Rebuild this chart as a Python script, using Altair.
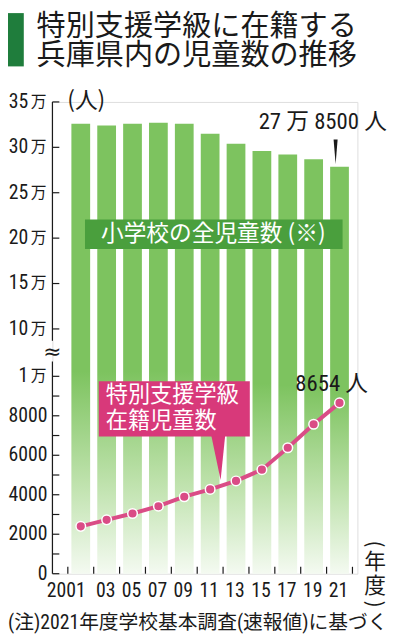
import altair as alt
import pandas as pd

# ---------------- data ----------------
years = [2001, 2003, 2005, 2007, 2009, 2011, 2013, 2015, 2017, 2019, 2021]
x_labels = ["2001", "03", "05", "07", "09", "11", "13", "15", "17", "19", "21"]
total_students = [326000, 324000, 326000, 327000, 326000, 315000, 304000, 296000, 292000, 287000, 278500]
special_class = [2400, 2730, 3050, 3420, 3900, 4270, 4700, 5270, 6380, 7570, 8654]

x_boundaries = [2000, 2002, 2004, 2006, 2008, 2010, 2012, 2014, 2016, 2018, 2020, 2022]
y_tick_values = [0, 1000, 2000, 3000, 4000, 5000, 6000, 7000, 8000, 9000, 10000,
                 100000, 150000, 200000, 250000, 300000, 350000]
y_label_values = [0, 2000, 4000, 6000, 8000, 10000, 100000, 150000, 200000, 250000, 300000, 350000]
y_label_numbers = ["0", "2000", "4000", "6000", "8000", "1", "10", "15", "20", "25", "30", "35"]
y_label_units = ["", "", "", "", "", "万", "万", "万", "万", "万", "万", "万"]

title_lines = ["特別支援学級に在籍する", "兵庫県内の児童数の推移"]
total_label = "小学校の全児童数 (※)"
special_label = ["特別支援学級", "在籍児童数"]
last_total_text = "27 万 8500 人"
last_special_text = "8654 人"
footnote = "(注)2021年度学校基本調査(速報値)に基づく"

# ---------------- broken-axis mapping (display units = px) ----------------
W, H = 309, 478
def disp_expr(f):
    return (f"datum.{f} <= 10000 ? datum.{f} / 50 : "
            f"248 + (datum.{f} - 100000) / 50000 * 46")

XS = alt.Scale(domain=[1999.19, 2022], nice=False, zero=False)
YS = alt.Scale(domain=[0, H], nice=False, zero=False)

CJK = "Noto Sans CJK JP"
NUM = "Roboto Condensed, Noto Sans CJK JP"
INK = "#1a1a1a"
BAR_GREEN = "#7dc35f"
BOX_GREEN = "#4a9f3d"
TITLE_GREEN = "#1f7d3c"
PINK = "#d8397a"
LINE_PINK = "#da4c86"

df = pd.DataFrame({"year": years, "total": total_students, "special": special_class,
                   "xl": x_labels})
one = pd.DataFrame({"k": [0]})

grad = alt.Gradient(
    gradient="linear", x1=0, x2=0, y1=0, y2=1,
    stops=[alt.GradientStop(offset=0, color=BAR_GREEN),
           alt.GradientStop(offset=0.55, color=BAR_GREEN),
           alt.GradientStop(offset=0.8, color="#bfe2ad"),
           alt.GradientStop(offset=1, color="#f4faf1")])

base = alt.Chart(df).transform_calculate(dt=disp_expr("total"), ds=disp_expr("special"))

x_axis = alt.Axis(values=years, labels=False, ticks=False, grid=False, title=None,
                  domainColor=INK, domainWidth=1.2)

bars = base.mark_bar(size=19, color=grad).encode(
    x=alt.X("year:Q", scale=XS, axis=x_axis),
    y=alt.Y("dt:Q", scale=YS, axis=None),
)

# x labels (2001 is set right of centre as in the original)
xlab_first = base.transform_filter(f"datum.year === {years[0]}").mark_text(
    font="Roboto Condensed", fontSize=20, color=INK, align="right", baseline="top", dx=5).encode(
    x=alt.X("year:Q", scale=XS, axis=None), y=alt.value(H + 8), text="xl:N")
xlab_rest = base.transform_filter(f"datum.year !== {years[0]}").mark_text(
    font="Roboto Condensed", fontSize=20, color=INK, align="center", baseline="top", dx=-1).encode(
    x=alt.X("year:Q", scale=XS, axis=None), y=alt.value(H + 8), text="xl:N")

line = base.mark_line(color=LINE_PINK, strokeWidth=4).encode(
    x=alt.X("year:Q", scale=XS, axis=None), y=alt.Y("ds:Q", scale=YS, axis=None))
pts = base.mark_point(filled=True, color=LINE_PINK, stroke="white", strokeWidth=1.5,
                      size=95, opacity=1).encode(
    x=alt.X("year:Q", scale=XS, axis=None), y=alt.Y("ds:Q", scale=YS, axis=None))

last = base.transform_filter(f"datum.year === {years[-1]}")
total_txt = last.mark_text(text=last_total_text, font=NUM, fontSize=23, color=INK,
                           dx=-17, dy=-45).encode(
    x=alt.X("year:Q", scale=XS, axis=None), y=alt.Y("dt:Q", scale=YS, axis=None))
# pointer wedge: path drawn above the anchor (bar top), 12px per unit
wedge = last.mark_point(shape="M -0.5 -2.3 L -0.16 -2.3 L -0.33 -0.25 Z", filled=True,
                        color=INK, size=576, opacity=1).encode(
    x=alt.X("year:Q", scale=XS, axis=None), y=alt.Y("dt:Q", scale=YS, axis=None))
special_txt = last.mark_text(text=last_special_text, font=NUM, fontSize=23, color=INK,
                             dx=-8, dy=-19).encode(
    x=alt.X("year:Q", scale=XS, axis=None), y=alt.Y("ds:Q", scale=YS, axis=None))

# green label box
gbox = alt.Chart(one).mark_rect(color=BOX_GREEN).encode(
    x=alt.value(33), x2=alt.value(294), y=alt.value(119), y2=alt.value(149))
gtxt = alt.Chart(one).mark_text(text=total_label, font=CJK, fontSize=23, color="white",
                                align="center", baseline="middle").encode(
    x=alt.value(163), y=alt.value(134))

# pink callout
pbox = alt.Chart(one).mark_rect(color=PINK).encode(
    x=alt.value(47), x2=alt.value(200), y=alt.value(283), y2=alt.value(339))
ptail = alt.Chart(one).mark_point(shape="M -0.32 -1.05 L 0.32 -1.05 L 0.11 1 Z", filled=True,
                                  color=PINK, size=1936, opacity=1).encode(
    x=alt.value(168), y=alt.value(361))
ptxt1 = alt.Chart(one).mark_text(text=special_label[0], font=CJK, fontSize=22.5, color="white",
                                 align="left", baseline="middle").encode(
    x=alt.value(54), y=alt.value(297))
ptxt2 = alt.Chart(one).mark_text(text=special_label[1], font=CJK, fontSize=22.5, color="white",
                                 align="left", baseline="middle").encode(
    x=alt.value(54), y=alt.value(323))

# y axis (broken)
ydom = alt.Chart(one).mark_rule(color=INK, strokeWidth=1.2).encode(
    x=alt.value(0), y=alt.value(0), y2=alt.value(242))
ydom2 = alt.Chart(one).mark_rule(color=INK, strokeWidth=1.2).encode(
    x=alt.value(0), y=alt.value(263), y2=alt.value(H))
brk = alt.Chart(one).mark_text(text="≈", font="DejaVu Sans", fontSize=22, color=INK,
                               align="center", baseline="middle").encode(
    x=alt.value(0), y=alt.value(253))

tick_df = pd.DataFrame({"v": y_tick_values})
yticks = alt.Chart(tick_df).transform_calculate(d=disp_expr("v")).mark_rule(
    color=INK, strokeWidth=1.2).encode(
    x=alt.value(0), x2=alt.value(7), y=alt.Y("d:Q", scale=YS, axis=None))

lab_df = pd.DataFrame({"v": y_label_values, "num": y_label_numbers, "unit": y_label_units})
lab_base = alt.Chart(lab_df).transform_calculate(d=disp_expr("v"))
ylab_plain = lab_base.transform_filter("datum.unit === ''").mark_text(
    font=NUM, fontSize=20, color=INK, align="right", baseline="middle").encode(
    x=alt.value(-5), y=alt.Y("d:Q", scale=YS, axis=None), text="num:N")
ylab_num = lab_base.transform_filter("datum.unit !== ''").mark_text(
    font=NUM, fontSize=20, color=INK, align="right", baseline="middle").encode(
    x=alt.value(-24.5), y=alt.Y("d:Q", scale=YS, axis=None), text="num:N")
ylab_unit = lab_base.transform_filter("datum.unit !== ''").mark_text(
    font=CJK, fontSize=16, color=INK, align="center", baseline="middle").encode(
    x=alt.value(-14), y=alt.Y("d:Q", scale=YS, axis=None), text="unit:N")

xb_df = pd.DataFrame({"b": x_boundaries})
xticks = alt.Chart(xb_df).mark_rule(color=INK, strokeWidth=1.2).encode(
    x=alt.X("b:Q", scale=XS, axis=None), y=alt.value(H - 7), y2=alt.value(H))

unit_txt = alt.Chart(one).mark_text(text="(人)", font=CJK, fontSize=23, color=INK,
                                    align="left", baseline="middle").encode(
    x=alt.value(15), y=alt.value(-1))

# (年度) written vertically: parentheses turned by 90 degrees
nendo = [
    alt.Chart(one).mark_text(text="(", font=CJK, fontSize=21, angle=90, color=INK,
                             align="center", baseline="middle").encode(x=alt.value(326), y=alt.value(448)),
    alt.Chart(one).mark_text(text="年", font=CJK, fontSize=22, color=INK,
                             align="center", baseline="middle").encode(x=alt.value(327), y=alt.value(466)),
    alt.Chart(one).mark_text(text="度", font=CJK, fontSize=22, color=INK,
                             align="center", baseline="middle").encode(x=alt.value(327), y=alt.value(491)),
    alt.Chart(one).mark_text(text=")", font=CJK, fontSize=21, angle=90, color=INK,
                             align="center", baseline="middle").encode(x=alt.value(326), y=alt.value(509)),
]

# title block
tbar = alt.Chart(one).mark_rect(color=TITLE_GREEN).encode(
    x=alt.value(-45), x2=alt.value(-29), y=alt.value(-90), y2=alt.value(-36))
t1 = alt.Chart(one).mark_text(text=title_lines[0], font=CJK, fontSize=29.5, fontWeight="normal",
                              color=INK, align="left", baseline="middle").encode(
    x=alt.value(-16), y=alt.value(-75.5))
t2 = alt.Chart(one).mark_text(text=title_lines[1], font=CJK, fontSize=29.5, fontWeight="normal",
                              color=INK, align="left", baseline="middle").encode(
    x=alt.value(-16), y=alt.value(-46))

note = alt.Chart(one).mark_text(text=footnote, font=NUM, fontSize=20, color=INK,
                                align="left", baseline="middle").encode(
    x=alt.value(-45), y=alt.value(528))

chart = alt.layer(
    bars, gbox, gtxt, line, pts, ptail, pbox, ptxt1, ptxt2,
    total_txt, wedge, special_txt, xlab_first, xlab_rest,
    ydom, ydom2, brk, yticks, ylab_plain, ylab_num, ylab_unit, xticks,
    unit_txt, *nendo, tbar, t1, t2, note,
).properties(
    width=W, height=H,
    autosize=alt.AutoSizeParams(type="none"),
    padding={"left": 45, "top": 91, "right": 30, "bottom": 63},
).configure_view(stroke=None).configure(background="white")

chart.save("out.html", embed_options={"renderer": "svg", "actions": False})
